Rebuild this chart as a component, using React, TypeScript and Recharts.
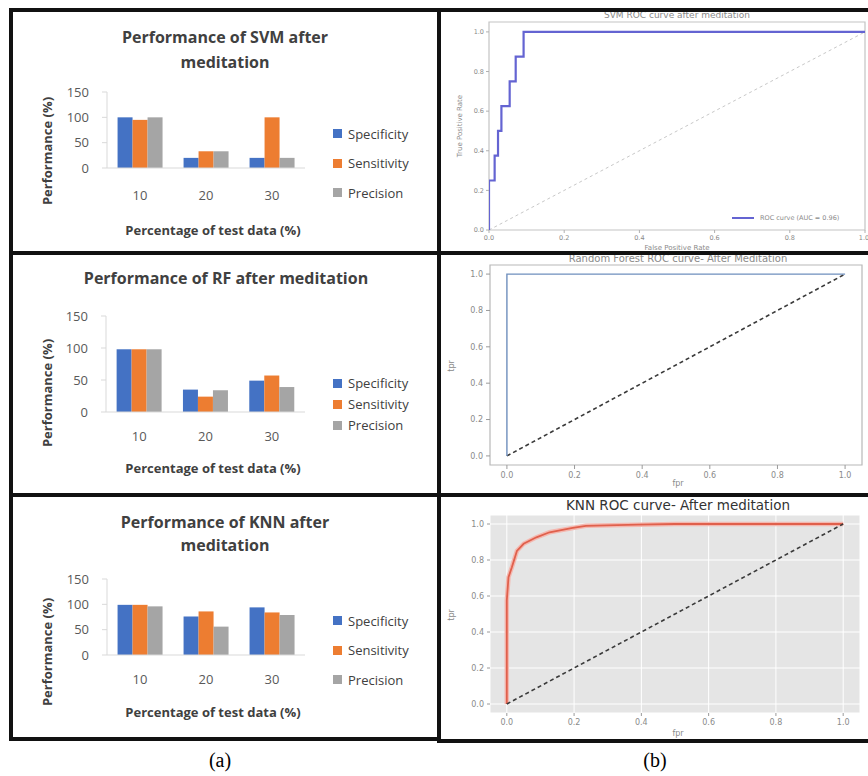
import React from 'react';
import {
  BarChart, Bar, XAxis, YAxis, Legend, LineChart, Line, ReferenceArea, CartesianGrid,
} from 'recharts';

// ---------- data ----------
const categories = ['10', '20', '30'];
const seriesNames = ['Specificity', 'Sensitivity', 'Precision'];
const svmSpecificity = [100, 20, 20];
const svmSensitivity = [95, 33, 100];
const svmPrecision = [100, 33, 20];
const rfSpecificity = [98, 35, 49];
const rfSensitivity = [98, 24, 57];
const rfPrecision = [98, 34, 39];
const knnSpecificity = [99, 76, 94];
const knnSensitivity = [99, 86, 84];
const knnPrecision = [96, 56, 79];
const perfTicks = [0, 50, 100, 150];

const rocTicks = [0, 0.2, 0.4, 0.6, 0.8, 1.0];
const chanceFpr = [0, 1];
const chanceTpr = [0, 1];
const svmFpr = [0, 0, 0.015, 0.015, 0.024, 0.024, 0.033, 0.033, 0.055, 0.055, 0.071, 0.071, 0.092, 0.092, 1];
const svmTpr = [0, 0.25, 0.25, 0.375, 0.375, 0.5, 0.5, 0.625, 0.625, 0.75, 0.75, 0.875, 0.875, 1, 1];
const rfFpr = [0, 0, 1];
const rfTpr = [0, 1, 1];
const knnFpr = [0, 0, 0.005, 0.015, 0.03, 0.05, 0.088, 0.127, 0.196, 0.235, 0.39, 0.5, 1];
const knnTpr = [0, 0.576, 0.705, 0.76, 0.85, 0.89, 0.926, 0.954, 0.978, 0.99, 0.996, 1, 1];

const BAR_COLORS = ['#4472C4', '#ED7D31', '#A5A5A5'];
const XL_FONT = '"Open Sans", "Liberation Sans", sans-serif';
const MPL_FONT = '"DejaVu Sans", sans-serif';

const toRows = (a: number[], b: number[], c: number[]) =>
  categories.map((cat, i) => ({ cat, s0: a[i], s1: b[i], s2: c[i] }));
const toPts = (xs: number[], ys: number[]) => xs.map((x, i) => ({ x, y: ys[i] }));

// ---------- helpers ----------
const T = ({ x, y, size, weight = 400, color = '#404040', family = XL_FONT, rotate = 0, children }: any) => (
  <div
    style={{
      position: 'absolute', left: x, top: y, fontSize: size, fontWeight: weight, color,
      fontFamily: family, whiteSpace: 'nowrap', lineHeight: 1,
      transform: `translate(-50%, -50%) rotate(${rotate}deg)`,
    }}
  >
    {children}
  </div>
);

const Frame = ({ left, top, width, height }: any) => (
  <div style={{
    position: 'absolute', left, top, width, height, boxSizing: 'border-box',
    border: '4px solid #111',
  }} />
);

const barLegend = (rowGap: number) => (props: any) => {
  const payload = [...(props.payload || [])].sort(
    (a: any, b: any) => seriesNames.indexOf(a.value) - seriesNames.indexOf(b.value),
  );
  return (
    <div style={{ fontFamily: XL_FONT, fontSize: 13, color: '#404040' }}>
      {payload.map((p: any, i: number) => (
        <div key={i} style={{ display: 'flex', alignItems: 'center', height: rowGap }}>
          <span style={{ width: 9, height: 9, background: p.color, marginRight: 6, display: 'inline-block' }} />
          <span>{p.value}</span>
        </div>
      ))}
    </div>
  );
};

const PerfChart = ({ left, top, width, height, margin, rows, rowGap, legendTop, tickMargin = 14 }: any) => (
  <div style={{ position: 'absolute', left, top }}>
    <BarChart width={width} height={height} data={rows} margin={margin} barCategoryGap="16%" barGap={0}>
      <XAxis
        dataKey="cat" height={30} axisLine={{ stroke: '#d9d9d9' }} tickLine={false} tickMargin={tickMargin}
        tick={{ fill: '#595959', fontSize: 13, fontFamily: XL_FONT }}
      />
      <YAxis
        width={40} domain={[0, 150]} ticks={perfTicks} interval={0}
        axisLine={{ stroke: '#d9d9d9' }} tickLine={{ stroke: '#d9d9d9' }} tickSize={5} tickMargin={13}
        tick={{ fill: '#595959', fontSize: 13, fontFamily: XL_FONT }}
      />
      {seriesNames.map((n, i) => (
        <Bar key={n} dataKey={`s${i}`} name={n} fill={BAR_COLORS[i]} isAnimationActive={false} />
      ))}
      <Legend
        layout="vertical" align="center" verticalAlign="middle"
        wrapperStyle={{ left: 320, top: legendTop, width: 110 }}
        content={barLegend(rowGap)}
      />
    </BarChart>
  </div>
);

const mplTick = (size: number, fill: string) => ({ fill, fontSize: size, fontFamily: MPL_FONT });

// ---------- App ----------
export default function App() {
  const svmRows = toRows(svmSpecificity, svmSensitivity, svmPrecision);
  const rfRows = toRows(rfSpecificity, rfSensitivity, rfPrecision);
  const knnRows = toRows(knnSpecificity, knnSensitivity, knnPrecision);

  return (
    <div style={{ position: 'absolute', left: 0, top: 0, width: 868, height: 776, background: '#fff', overflow: 'hidden' }}>
      {/* ---- left column: bar charts ---- */}
      <T x={225} y={37} size={16} weight={700}>Performance of SVM after</T>
      <T x={225} y={62} size={16} weight={700}>meditation</T>
      <T x={47} y={151} size={13} weight={700} rotate={-90}>Performance (%)</T>
      <T x={213} y={230} size={13} weight={700}>Percentage of test data (%)</T>
      <PerfChart left={13} top={12} width={424} height={240} tickMargin={17}
        margin={{ top: 80, right: 132, left: 54, bottom: 54 }} rows={svmRows} rowGap={29.5} legendTop={107} />

      <T x={226} y={278} size={16} weight={700}>Performance of RF after meditation</T>
      <T x={47} y={393} size={13} weight={700} rotate={-90}>Performance (%)</T>
      <T x={213} y={468} size={13} weight={700}>Percentage of test data (%)</T>
      <PerfChart left={13} top={255} width={424} height={238}
        margin={{ top: 61, right: 132, left: 53, bottom: 51 }} rows={rfRows} rowGap={21} legendTop={117.5} />

      <T x={225} y={522} size={16} weight={700}>Performance of KNN after</T>
      <T x={225} y={545} size={16} weight={700}>meditation</T>
      <T x={47} y={652} size={13} weight={700} rotate={-90}>Performance (%)</T>
      <T x={213} y={712} size={13} weight={700}>Percentage of test data (%)</T>
      <PerfChart left={13} top={497} width={424} height={240}
        margin={{ top: 82, right: 132, left: 54, bottom: 52 }} rows={knnRows} rowGap={29.5} legendTop={109} />

      {/* ---- right column: ROC curves ---- */}
      {/* SVM */}
      <T x={677} y={15} size={9} color="#8a8a8a" family={MPL_FONT}>SVM ROC curve after meditation</T>
      <T x={460} y={126} size={7} color="#8a8a8a" family={MPL_FONT} rotate={-90}>True Positive Rate</T>
      <T x={677} y={248} size={7} color="#8a8a8a" family={MPL_FONT}>False Positive Rate</T>
      <div style={{ position: 'absolute', left: 441, top: 12 }}>
        <LineChart width={427} height={243} margin={{ top: 10, right: 3, left: 28, bottom: 10 }}>
          <XAxis type="number" dataKey="x" domain={[0, 1]} ticks={rocTicks} allowDataOverflow height={15}
            axisLine={false} tickLine={{ stroke: '#b0b0b0' }} tickSize={3} tickMargin={2}
            tick={mplTick(6.5, '#8a8a8a')} tickFormatter={(v: number) => v.toFixed(1)} />
          <YAxis type="number" dataKey="y" domain={[0, 1.05]} ticks={rocTicks} allowDataOverflow width={20}
            axisLine={false} tickLine={{ stroke: '#b0b0b0' }} tickSize={3} tickMargin={2}
            tick={mplTick(6.5, '#8a8a8a')} tickFormatter={(v: number) => v.toFixed(1)} />
          <ReferenceArea x1={0} x2={1} y1={0} y2={1.05} fill="none" stroke="#c4c4c4" strokeWidth={1.2} />
          <Line data={toPts(chanceFpr, chanceTpr)} dataKey="y" stroke="#c8c8c8" strokeWidth={1}
            strokeDasharray="3 3" dot={false} isAnimationActive={false} />
          <Line data={toPts(svmFpr, svmTpr)} dataKey="y" name="ROC curve (AUC = 0.96)" stroke="#6464d2"
            strokeWidth={2.2} dot={false} isAnimationActive={false} />
          <Legend
            layout="vertical" align="center" verticalAlign="middle"
            wrapperStyle={{ left: 291, top: 202, width: 130 }}
            content={() => (
              <div style={{ display: 'flex', alignItems: 'center', fontFamily: MPL_FONT, fontSize: 6.5, color: '#8a8a8a' }}>
                <span style={{ width: 22, height: 2, background: '#6464d2', marginRight: 6, display: 'inline-block' }} />
                <span>ROC curve (AUC = 0.96)</span>
              </div>
            )}
          />
        </LineChart>
      </div>

      {/* RF */}
      <T x={678} y={259} size={10} color="#8a8a8a" family={MPL_FONT}>Random Forest ROC curve- After Meditation</T>
      <T x={452} y={366} size={8} color="#8a8a8a" family={MPL_FONT} rotate={-90}>tpr</T>
      <T x={678} y={484} size={8} color="#8a8a8a" family={MPL_FONT}>fpr</T>
      <div style={{ position: 'absolute', left: 441, top: 255 }}>
        <LineChart width={427} height={242} margin={{ top: 10, right: 6, left: 29, bottom: 17 }}>
          <XAxis type="number" dataKey="x" domain={[-0.05, 1.05]} ticks={rocTicks} allowDataOverflow height={15}
            axisLine={false} tickLine={{ stroke: '#9a9a9a' }} tickSize={4} tickMargin={3}
            tick={mplTick(8, '#8a8a8a')} tickFormatter={(v: number) => v.toFixed(1)} />
          <YAxis type="number" dataKey="y" domain={[-0.05, 1.05]} ticks={rocTicks} allowDataOverflow width={20}
            axisLine={false} tickLine={{ stroke: '#9a9a9a' }} tickSize={4} tickMargin={3}
            tick={mplTick(8, '#8a8a8a')} tickFormatter={(v: number) => v.toFixed(1)} />
          <ReferenceArea x1={-0.05} x2={1.05} y1={-0.05} y2={1.05} fill="none" stroke="#b8b8b8" strokeWidth={1.2} />
          <Line data={toPts(chanceFpr, chanceTpr)} dataKey="y" stroke="#3a3a3a" strokeWidth={1.6}
            strokeDasharray="4 3" dot={false} isAnimationActive={false} />
          <Line data={toPts(rfFpr, rfTpr)} dataKey="y" stroke="#6f8fbd" strokeWidth={1.4}
            dot={false} isAnimationActive={false} />
        </LineChart>
      </div>

      {/* KNN */}
      <T x={678} y={506} size={13.5} color="#333" family={MPL_FONT}>KNN ROC curve- After meditation</T>
      <T x={452} y={615} size={8} color="#8a8a8a" family={MPL_FONT} rotate={-90}>tpr</T>
      <T x={678} y={734} size={8} color="#8a8a8a" family={MPL_FONT}>fpr</T>
      <div style={{ position: 'absolute', left: 441, top: 497 }}>
        <LineChart width={427} height={246} margin={{ top: 18, right: 8, left: 29, bottom: 15 }}>
          <CartesianGrid fill="#e5e5e5" stroke="#ffffff" strokeWidth={1} />
          <XAxis type="number" dataKey="x" domain={[-0.05, 1.05]} ticks={rocTicks} allowDataOverflow height={15}
            axisLine={false} tickLine={{ stroke: '#9a9a9a' }} tickSize={3} tickMargin={3}
            tick={mplTick(8, '#8a8a8a')} tickFormatter={(v: number) => v.toFixed(1)} />
          <YAxis type="number" dataKey="y" domain={[-0.05, 1.05]} ticks={rocTicks} allowDataOverflow width={20}
            axisLine={false} tickLine={{ stroke: '#9a9a9a' }} tickSize={3} tickMargin={3}
            tick={mplTick(8, '#8a8a8a')} tickFormatter={(v: number) => v.toFixed(1)} />
          <Line data={toPts(knnFpr, knnTpr)} dataKey="y" stroke="#f4b8b0" strokeWidth={4.5}
            dot={false} isAnimationActive={false} />
          <Line data={toPts(knnFpr, knnTpr)} dataKey="y" stroke="#e0604c" strokeWidth={1.8}
            dot={false} isAnimationActive={false} />
          <Line data={toPts(chanceFpr, chanceTpr)} dataKey="y" stroke="#3a3a3a" strokeWidth={1.6}
            strokeDasharray="4 3" dot={false} isAnimationActive={false} />
        </LineChart>
      </div>

      {/* ---- panel frames ---- */}
      <Frame left={9} top={8} width={432} height={247} />
      <Frame left={9} top={251} width={432} height={246} />
      <Frame left={9} top={493} width={432} height={248} />
      <Frame left={437} top={8} width={440} height={247} />
      <Frame left={437} top={251} width={440} height={246} />
      <Frame left={437} top={493} width={440} height={250} />

      {/* ---- captions ---- */}
      <T x={220} y={760} size={20} color="#000" family='"Liberation Serif", serif'>(a)</T>
      <T x={655} y={760} size={20} color="#000" family='"Liberation Serif", serif'>(b)</T>
    </div>
  );
}
